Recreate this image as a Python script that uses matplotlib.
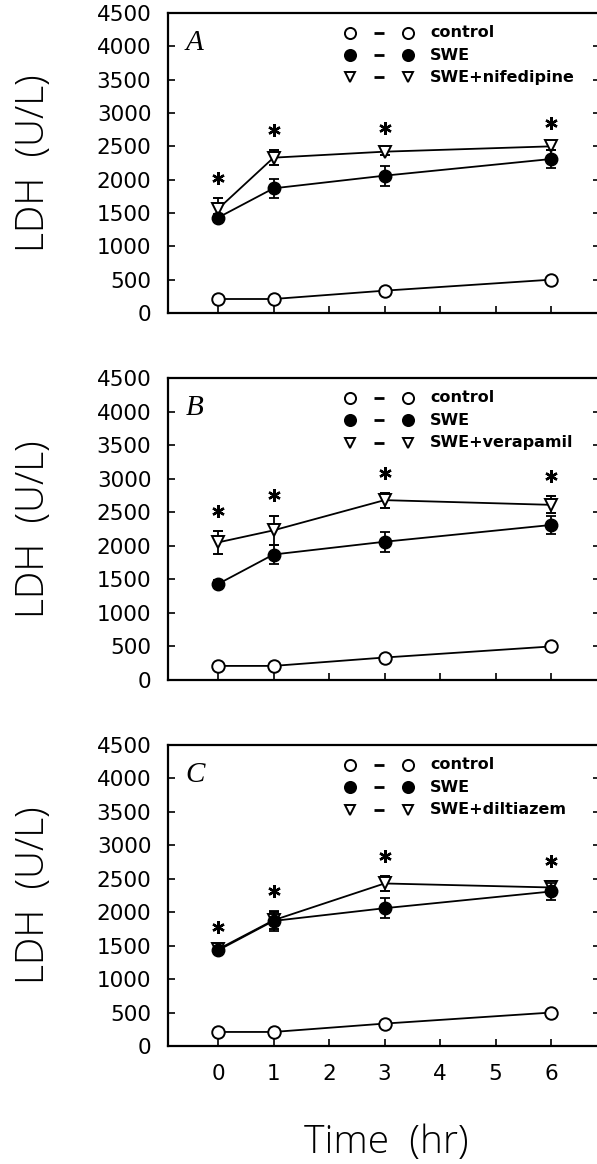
import numpy as np
import matplotlib
matplotlib.use("Agg")
import matplotlib.pyplot as plt

# time points (hr)
time = [0, 1, 3, 6]

control = [210, 210, 335, 500]
control_err = [30, 30, 30, 30]

swe = [1430, 1870, 2060, 2310]
swe_err = [60, 145, 150, 130]

drug_names = ["SWE+nifedipine", "SWE+verapamil", "SWE+diltiazem"]
panel_letters = ["A", "B", "C"]
drug_vals = [
    [1560, 2330, 2420, 2500],
    [2050, 2230, 2680, 2610],
    [1445, 1880, 2430, 2370],
]
drug_errs = [
    [170, 110, 50, 50],
    [175, 220, 110, 125],
    [40, 130, 110, 90],
]

W, H = 597, 1164
fig = plt.figure(figsize=(W / 100, H / 100), dpi=100)

# (top, bottom) of each panel in pixels
panel_px = [(13, 313), (378, 680), (745, 1046)]
left_px, right_px = 168, 600

for i, (top, bot) in enumerate(panel_px):
    ax = fig.add_axes([left_px / W, 1 - bot / H, (right_px - left_px) / W, (bot - top) / H])
    ax.set_xlim(-0.9, 6.88)
    ax.set_ylim(0, 4500)

    # drug series first, SWE on top of it
    ax.errorbar(time, drug_vals[i], yerr=drug_errs[i], color="black", lw=1.3,
                marker="v", ms=9, mfc="white", mec="black", mew=1.4,
                elinewidth=1.3, capsize=3.5, capthick=1.3, zorder=3)
    ax.errorbar(time, swe, yerr=swe_err, color="black", lw=1.3,
                marker="o", ms=9, mfc="black", mec="black",
                elinewidth=1.3, capsize=3.5, capthick=1.3, zorder=4)
    ax.errorbar(time, control, yerr=control_err, color="black", lw=1.3,
                marker="o", ms=9, mfc="white", mec="black", mew=1.4,
                elinewidth=1.0, capsize=0, zorder=5)

    # significance asterisks
    star_y = np.array(drug_vals[i]) + np.array(drug_errs[i]) + 300
    ax.plot(time, star_y, ls="none", marker=(6, 2, 0), ms=9, mew=1.7,
            color="black", zorder=6)

    ax.set_yticks(np.arange(0, 4501, 500))
    ax.set_xticks(range(7))
    ax.tick_params(direction="in", length=5, width=1.2, labelsize=15.5, pad=12,
                   right=True, top=False)
    ax.tick_params(axis="x", pad=13)
    if i < 2:
        ax.set_xticklabels([])
    for s in ax.spines.values():
        s.set_linewidth(1.6)

    # panel letter
    ax.text(0.062, 0.90, panel_letters[i], transform=ax.transAxes, fontsize=21,
            family="Liberation Serif", style="italic", ha="center", va="center")

    # legend drawn by hand: marker - marker label
    rows = [("o", "white", "control"), ("o", "black", "SWE"), ("v", "white", drug_names[i])]
    for j, (mk, fc, lab) in enumerate(rows):
        y = 0.935 - j * 0.075
        ax.plot([0.421, 0.556], [y, y], transform=ax.transAxes, ls="none",
                marker=mk, ms=8 if mk == "o" else 7.5, mfc=fc, mec="black",
                mew=1.4, clip_on=False)
        ax.plot([0.478, 0.500], [y, y], transform=ax.transAxes, color="black",
                lw=2, solid_capstyle="butt", clip_on=False)
        ax.text(0.607, y, lab, transform=ax.transAxes, fontsize=11.5,
                fontweight="bold", ha="left", va="center")

    fig.text(34 / W, 1 - (top + bot) / 2 / H, "LDH  (U/L)", rotation=90,
             fontsize=28, family="Open Sans", fontweight="light", ha="center", va="center")

fig.text(386 / W, 1 - 1143 / H, "Time  (hr)", fontsize=28, family="Open Sans",
         fontweight="light", ha="center", va="center")

fig.savefig("out.png", dpi=100)
